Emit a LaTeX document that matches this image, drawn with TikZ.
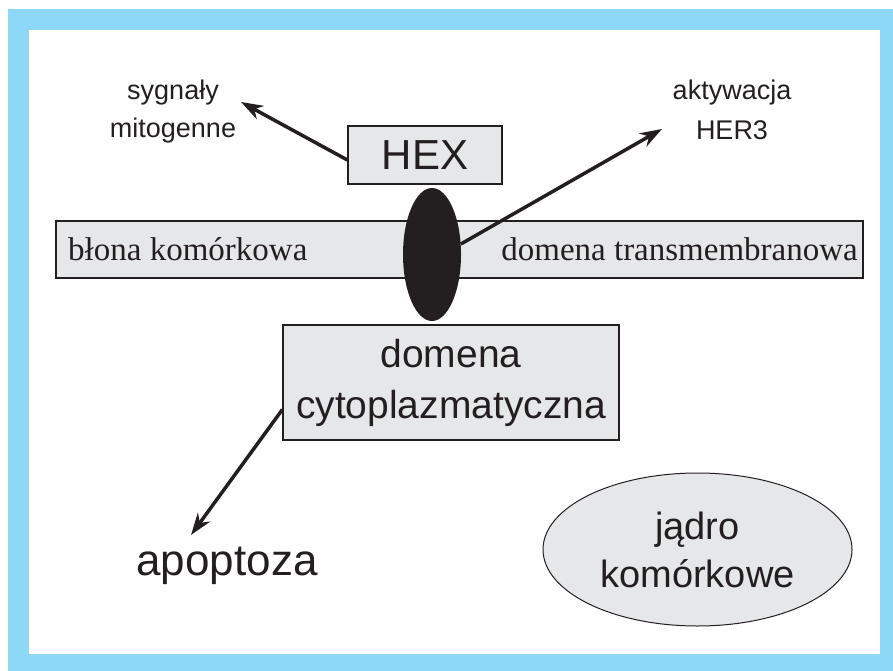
\documentclass[tikz,border=0pt]{standalone}
\usepackage{fontspec}
\setmainfont{Liberation Serif}
\setsansfont{Liberation Sans}
\usetikzlibrary{arrows.meta,shapes.geometric}
\definecolor{frameblue}{RGB}{141,216,246}
\definecolor{boxgray}{RGB}{230,231,232}
\definecolor{inkgray}{RGB}{35,31,32}

\begin{document}
\begin{tikzpicture}[x=1pt,y=-1pt,
    grayboxstyle/.style={draw=inkgray, line width=1.2pt, fill=boxgray,
        inner sep=0pt, align=center, text=inkgray},
    labelstyle/.style={inner sep=0pt, align=center, text=inkgray},
    arrowstyle/.style={draw=inkgray, line width=3.5pt,
        -{Stealth[length=22pt,width=15pt,inset=7pt]}},
]
    % frame
    \useasboundingbox (0,0) rectangle (893,671);
    \fill[frameblue] (8,9) rectangle (893,671);
    \fill[white] (29,30) rectangle (880,654);

    % membrane and receptor
    \node[grayboxstyle, minimum width=807pt, minimum height=57pt] (membrane) at (459.5,249.5) {};
    \node[labelstyle, anchor=base west, font=\fontsize{33}{38}\selectfont] (blona) at (68,260) {błona komórkowa};
    \node[labelstyle, anchor=base east, font=\fontsize{33}{38}\selectfont] (transmem) at (858,260) {domena transmembranowa};
    \node[grayboxstyle, minimum width=154pt, minimum height=58pt,
        font=\sffamily\fontsize{42}{48}\selectfont] (hex) at (425,155) {HEX};
    \node[ellipse, fill=inkgray, minimum width=58pt, minimum height=133pt, inner sep=0pt] (receptor) at (432,254.5) {};
    \node[grayboxstyle, minimum width=336pt, minimum height=115pt,
        font=\sffamily\fontsize{39}{51}\selectfont] (cyto) at (451,382.5) {domena\\cytoplazmatyczna};
    \node[grayboxstyle, ellipse, line width=1pt, minimum width=309pt, minimum height=153pt,
        font=\sffamily\fontsize{38}{48}\selectfont] (nucleus) at (697.5,549.5) {jądro\\komórkowe};

    % outcomes
    \node[labelstyle, font=\sffamily\fontsize{27}{38}\selectfont] (mito) at (173,112) {sygnały\\mitogenne};
    \node[labelstyle, font=\sffamily\fontsize{27}{40}\selectfont] (her3) at (732,110) {aktywacja\\HER3};
    \node[labelstyle, anchor=base, font=\sffamily\fontsize{44}{50}\selectfont] (apop) at (227,575) {apoptoza};

    \coordinate (mitoTip) at (241,102);
    \coordinate (her3Tip) at (662,129);
    \coordinate (apopTip) at (191,535);

    \draw[arrowstyle] ([yshift=-5pt]hex.west) -- (mitoTip);
    \draw[arrowstyle] (receptor.20) -- (her3Tip);
    \draw[arrowstyle] ([yshift=-27pt]cyto.west) -- (apopTip);
\end{tikzpicture}
\end{document}
